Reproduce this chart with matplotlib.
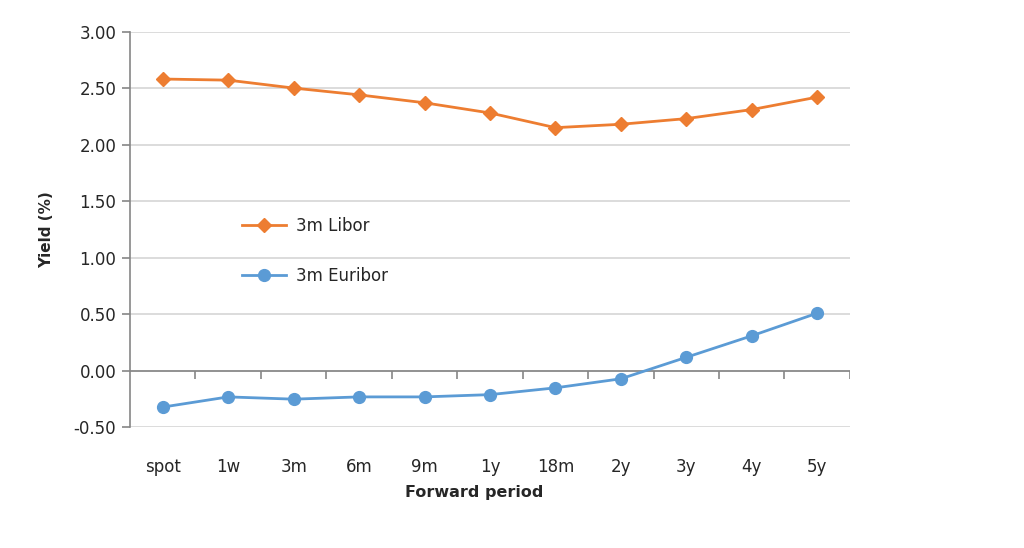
import numpy as np
import matplotlib
matplotlib.use("Agg")
import matplotlib.pyplot as plt

periods = ['spot', '1w', '3m', '6m', '9m', '1y', '18m', '2y', '3y', '4y', '5y']
libor = [2.58, 2.57, 2.50, 2.44, 2.37, 2.28, 2.15, 2.18, 2.23, 2.31, 2.42]
euribor = [-0.32, -0.23, -0.25, -0.23, -0.23, -0.21, -0.15, -0.07, 0.12, 0.31, 0.51]
yticks = [-0.5, 0.0, 0.5, 1.0, 1.5, 2.0, 2.5, 3.0]

orange = '#ED7D31'
blue = '#5B9BD5'
axis_grey = '#868686'
text_col = '#262626'

plt.rcParams['font.family'] = ['DejaVu Sans']

fig = plt.figure(figsize=(10.24, 5.48), dpi=100)
ax = fig.add_axes([0.127, 0.22, 0.703, 0.7225])

x = np.arange(len(periods))
ax.plot(x, libor, color=orange, linewidth=2, marker='D', markersize=7.5, label='3m Libor')
ax.plot(x, euribor, color=blue, linewidth=2, marker='o', markersize=8.5, label='3m Euribor')

ax.set_xlim(-0.5, len(periods) - 0.5)
ax.set_ylim(-0.5, 3.0)
ax.set_yticks(yticks)
ax.set_yticklabels(['%.2f' % v for v in yticks])
ax.set_xticks(x)
ax.set_xticklabels(periods)

# horizontal grid
ax.yaxis.grid(True, color='#D9D9D9', linewidth=1.3)
ax.set_axisbelow(True)

for s in ['top', 'right', 'bottom']:
    ax.spines[s].set_visible(False)
ax.spines['left'].set_color(axis_grey)
ax.spines['left'].set_linewidth(1.2)

# category axis sits on zero, with ticks between categories
ax.axhline(0, color=axis_grey, linewidth=1.2, zorder=1.5)
bounds = np.arange(len(periods) + 1) - 0.5
ax.vlines(bounds[1:], -0.07, 0, color=axis_grey, linewidth=1.2, zorder=1.5)

ax.tick_params(axis='y', length=6, width=1.2, color=axis_grey, pad=4,
               labelsize=12, labelcolor=text_col)
ax.tick_params(axis='x', length=0, pad=22, labelsize=12, labelcolor=text_col)

ax.set_ylabel('Yield (%)', fontsize=11, fontweight='bold', color=text_col)
ax.yaxis.set_label_coords(-0.105, 0.5)
ax.set_xlabel('Forward period', fontsize=11.5, fontweight='bold', color=text_col)
ax.xaxis.set_label_coords((474 - 130) / 720, -0.145)

ax.legend(loc='upper left', bbox_to_anchor=(0.135, 0.57), frameon=False,
          fontsize=12, labelspacing=1.95, handlelength=2.6, handletextpad=0.6,
          labelcolor=text_col)

fig.savefig('out.png', dpi=100)
